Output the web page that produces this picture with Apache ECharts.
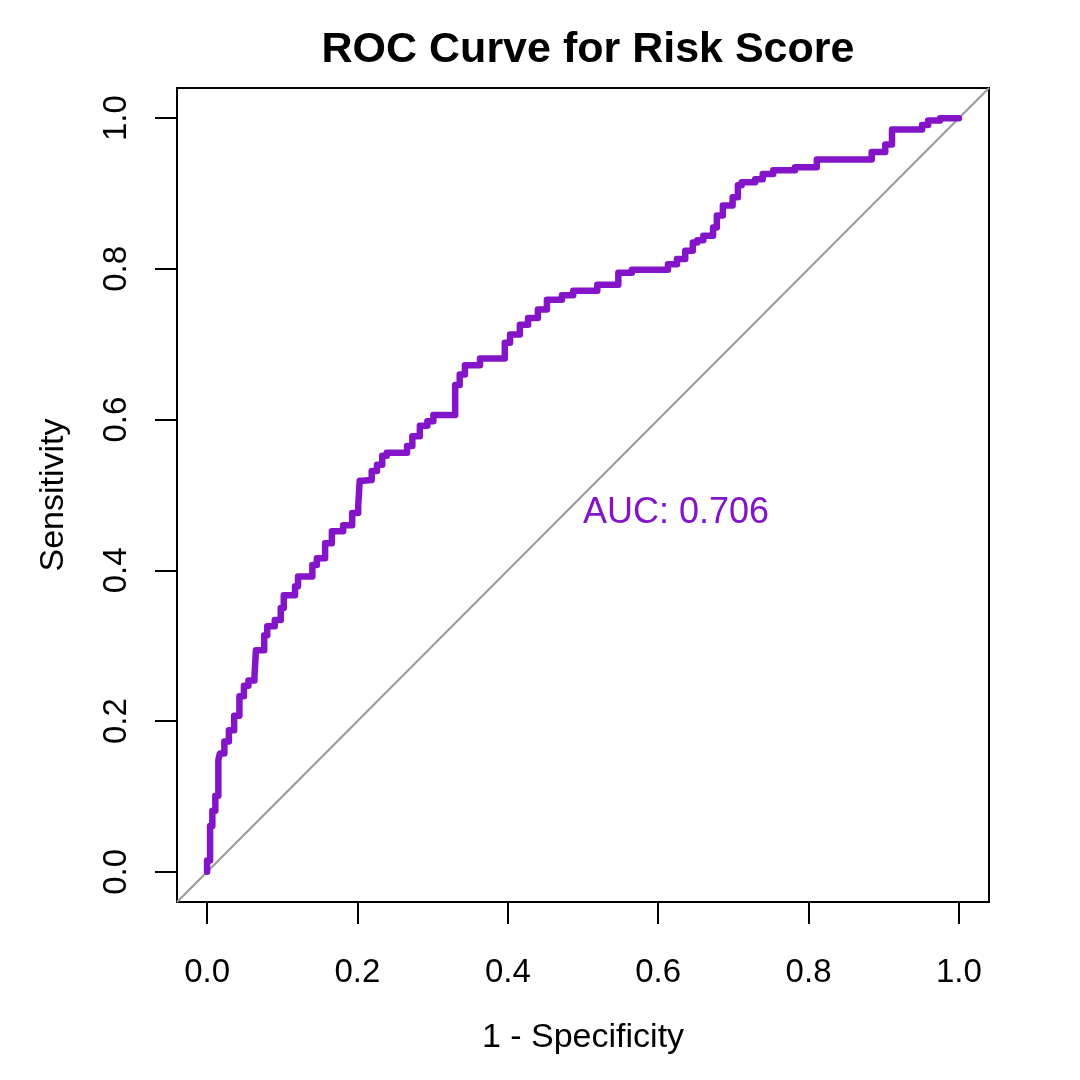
<!DOCTYPE html>
<html>
<head>
<meta charset="utf-8">
<script src="https://cdn.jsdelivr.net/npm/echarts@6/dist/echarts.min.js"></script>
<style>html,body{margin:0;padding:0;background:#fff;}#c{width:1080px;height:1080px;}</style>
</head>
<body>
<div id="c"></div>
<script>
// ROC points (1 - specificity, sensitivity)
const rocFpr = [0,0,0.004,0.007,0.011,0.015,0.017,0.023,0.029,0.036,0.043,0.049,0.055,0.063,0.065,0.076,0.080,0.090,0.098,0.102,0.117,0.121,0.140,0.146,0.157,0.166,0.181,0.193,0.201,0.203,0.207,0.219,0.226,0.233,0.239,0.266,0.273,0.283,0.293,0.301,0.330,0.336,0.343,0.363,0.396,0.403,0.416,0.427,0.440,0.452,0.472,0.487,0.519,0.547,0.565,0.613,0.625,0.636,0.646,0.652,0.660,0.673,0.678,0.686,0.699,0.706,0.711,0.729,0.739,0.753,0.782,0.811,0.884,0.902,0.911,0.951,0.959,0.975,1.0];
const rocTpr = [0,0.015,0.061,0.081,0.101,0.148,0.157,0.173,0.188,0.207,0.233,0.247,0.254,0.259,0.294,0.314,0.326,0.334,0.350,0.367,0.379,0.392,0.407,0.416,0.436,0.452,0.460,0.476,0.485,0.519,0.520,0.532,0.540,0.552,0.556,0.565,0.578,0.592,0.598,0.606,0.646,0.660,0.672,0.681,0.702,0.713,0.726,0.735,0.746,0.759,0.765,0.771,0.779,0.795,0.799,0.806,0.813,0.824,0.835,0.838,0.844,0.855,0.871,0.884,0.895,0.911,0.915,0.919,0.926,0.931,0.935,0.945,0.955,0.965,0.985,0.991,0.997,1.0,1.0];
const tickValues = [0, 0.2, 0.4, 0.6, 0.8, 1.0];
const tickLabels = ['0.0', '0.2', '0.4', '0.6', '0.8', '1.0'];
const aucText = 'AUC: 0.706';
const aucPos = [0.5, 0.5];
const diagonal = [[-0.04, -0.04], [1.04, 1.04]];

const FONT = 'Liberation Sans, Arial, sans-serif';
const PURPLE = '#8414C8';
const rocData = rocFpr.map((x, i) => [x, rocTpr[i]]);
const fmt = v => { const i = tickValues.findIndex(t => Math.abs(t - v) < 1e-9); return i >= 0 ? tickLabels[i] : ''; };

const chart = echarts.init(document.getElementById('c'), null, {renderer: 'canvas'});
chart.setOption({
  backgroundColor: '#ffffff',
  animation: false,
  title: {
    text: 'ROC Curve for Risk Score',
    left: 583, top: 24, textAlign: 'center',
    textStyle: {fontFamily: FONT, fontSize: 43, fontWeight: 'bold', color: '#000'}
  },
  grid: {left: 177, right: 91, top: 88, bottom: 178, show: true, borderColor: '#000', borderWidth: 2, backgroundColor: 'transparent'},
  xAxis: {
    type: 'value', min: -0.04, max: 1.04,
    name: '1 - Specificity', nameLocation: 'middle', nameGap: 119,
    nameTextStyle: {fontFamily: FONT, fontSize: 34, color: '#000'},
    axisLine: {show: false, onZero: false},
    splitLine: {show: false},
    axisTick: {show: true, inside: false, length: 22, customValues: tickValues, lineStyle: {color: '#000', width: 2}},
    axisLabel: {customValues: tickValues, formatter: fmt, margin: 54, fontFamily: FONT, fontSize: 33, color: '#000'}
  },
  yAxis: {
    type: 'value', min: -0.04, max: 1.04,
    name: 'Sensitivity', nameLocation: 'middle', nameGap: 106, nameRotate: 90,
    nameTextStyle: {fontFamily: FONT, fontSize: 34, color: '#000'},
    axisLine: {show: false, onZero: false},
    splitLine: {show: false},
    axisTick: {show: true, inside: false, length: 22, customValues: tickValues, lineStyle: {color: '#000', width: 2}},
    axisLabel: {customValues: tickValues, formatter: fmt, rotate: 90, margin: 44, fontFamily: FONT, fontSize: 33, color: '#000'}
  },
  series: [
    {
      type: 'line', data: diagonal, symbol: 'none', silent: true,
      lineStyle: {color: '#9a9a9a', width: 2}
    },
    {
      type: 'line', data: rocData, symbol: 'none', step: 'end',
      lineStyle: {color: PURPLE, width: 6.5, cap: 'round', join: 'round'}
    },
    {
      type: 'scatter', data: [aucPos], symbolSize: 0, silent: true,
      itemStyle: {opacity: 1},
      label: {show: true, formatter: aucText, position: [0, 0], align: 'left', verticalAlign: 'top',
        fontFamily: FONT, fontSize: 36, color: PURPLE, opacity: 1}
    }
  ]
});
</script>
</body>
</html>
